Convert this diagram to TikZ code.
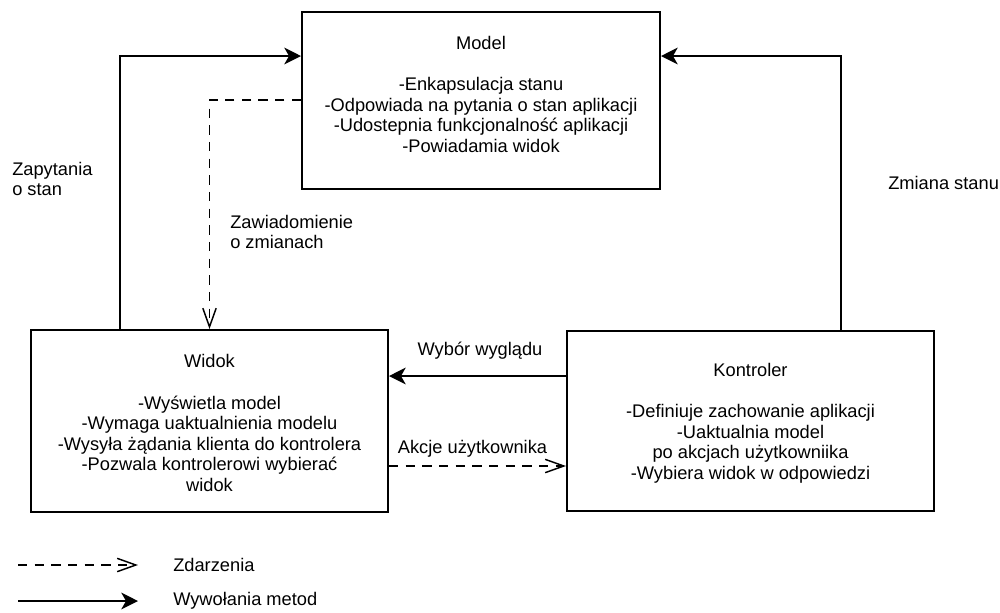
\documentclass[tikz,border=0pt]{standalone}
\usepackage{fontspec}
\setmainfont{Liberation Sans}
\usetikzlibrary{arrows.meta,calc}
\begin{document}
\begin{tikzpicture}[x=0.75pt,y=-0.75pt,
  every node/.style={font=\fontsize{13.7}{15.4}\selectfont, inner sep=0pt},
  box/.style={draw, line width=1.5pt, rectangle, inner sep=0pt},
  txt/.style={align=center},
  call/.style={line width=1.4pt, -{Stealth[length=12.5pt,width=12.5pt,inset=3.5pt]}},
  event/.style={line width=1.1pt, dash pattern=on 7pt off 5.5pt,
    -{Straight Barb[length=14pt,width=10pt,line width=1.1pt]}}
]
\useasboundingbox (0,0) rectangle (1000,612);

% the three MVC components
\node[box, minimum width=358*0.75pt, minimum height=177*0.75pt] (model) at (481,100.5) {};
\node[box, minimum width=357*0.75pt, minimum height=182*0.75pt] (widok) at (209.5,421) {};
\node[box, minimum width=367*0.75pt, minimum height=180*0.75pt] (kontroler) at (750.5,421) {};

\node[txt] (modeltext) at (481,94.5) {Model\\[15.4pt]-Enkapsulacja stanu\\-Odpowiada na pytania o stan aplikacji\\-Udostepnia funkcjonalność aplikacji\\-Powiadamia widok};
\node[txt] (widoktext) at (209.5,423) {Widok\\[15.4pt]-Wyświetla model\\-Wymaga uaktualnienia modelu\\-Wysyła żądania klienta do kontrolera\\-Pozwala kontrolerowi wybierać\\widok};
\node[txt] (kontrolertext) at (750.5,423) {Kontroler\\[15.4pt]-Definiuje zachowanie aplikacji\\-Uaktualnia model\\po akcjach użytkowniika\\-Wybiera widok w odpowiedzi};

% connectors
\draw[call] ($(widok.north west)+(90,0)$) |- ($(model.north west)+(0,45)$);
\draw[event] ($(model.north west)+(0,89)$) -| (widok.north);
\draw[call] ($(kontroler.north west)+(275,0)$) |- ($(model.north east)+(0,45)$);
\draw[call] ($(kontroler.north west)+(0,46)$) coordinate (wyb) -- (wyb -| widok.east);
\draw[event] ($(widok.north east)+(0,137)$) coordinate (akc) -- (akc -| kontroler.west);

% connector labels
\node[anchor=west, align=left] (zapytania) at (12,179) {Zapytania\\o stan};
\node[anchor=west, align=left] (zawiadomienie) at (230,232) {Zawiadomienie\\o zmianach};
\node[anchor=west] (zmiana) at (888,183) {Zmiana stanu};
\node (wybor) at (480,351) {Wybór wyglądu};
\node (akcje) at (472.5,449) {Akcje użytkownika};

% legend
\coordinate (evA) at (18,565);
\coordinate (evB) at (138,565);
\draw[event] (evA) -- (evB);
\node[anchor=west] (evlabel) at (173,565) {Zdarzenia};
\coordinate (caA) at (18,601);
\coordinate (caB) at (138,601);
\draw[call] (caA) -- (caB);
\node[anchor=west] (calabel) at (173,601) {Wywołania metod};
\end{tikzpicture}
\end{document}
